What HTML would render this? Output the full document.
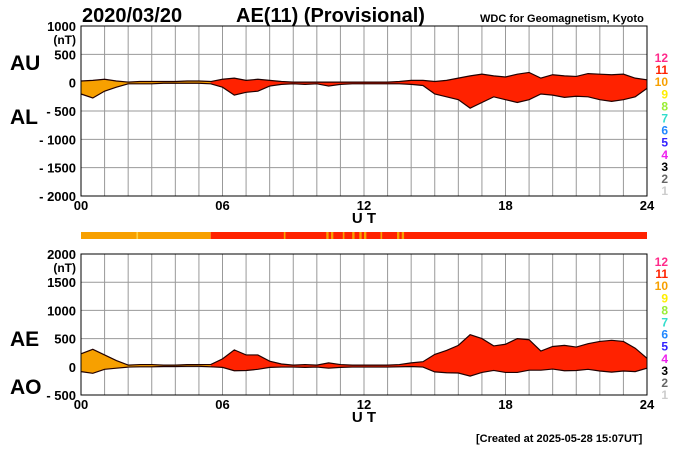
<!DOCTYPE html>
<html><head><meta charset="utf-8"><style>
body{margin:0;background:#fff;width:700px;height:450px;overflow:hidden}
svg{display:block;font-family:"Liberation Sans",sans-serif;font-weight:bold}
</style></head><body>
<svg id="c" width="700" height="450">
<text x="82" y="22" font-size="20">2020/03/20</text>
<text x="236" y="22" font-size="20">AE(11) (Provisional)</text>
<text x="480" y="22" font-size="11">WDC for Geomagnetism, Kyoto</text>
<text x="10" y="70" font-size="21">AU</text>
<text x="10" y="124" font-size="21">AL</text>
<text x="10" y="346" font-size="21">AE</text>
<text x="10" y="394" font-size="21">AO</text>
<text x="476" y="442" font-size="11">[Created at 2025-05-28 15:07UT]</text>
<g id="top"></g><g id="bot"></g><g id="bar"></g><g id="leg"></g>
</svg>
<script>
const hours=[0,0.5,1,1.5,2,2.5,3,3.5,4,4.5,5,5.5,6,6.5,7,7.5,8,8.5,9,9.5,10,10.5,11,11.5,12,12.5,13,13.5,14,14.5,15,15.5,16,16.5,17,17.5,18,18.5,19,19.5,20,20.5,21,21.5,22,22.5,23,23.5,24];
const au=[30,40,60,30,10,20,20,20,20,30,30,20,60,80,40,60,40,20,10,10,10,10,10,10,10,10,10,20,40,40,20,40,80,120,150,120,100,150,180,80,140,120,110,160,150,140,150,80,50];
const al=[-200,-270,-150,-80,-20,-20,-20,-10,-10,-10,-10,-20,-80,-220,-170,-150,-60,-30,-20,-30,-20,-60,-30,-20,-20,-20,-20,-20,-30,-50,-200,-250,-300,-450,-350,-250,-300,-350,-300,-200,-220,-260,-240,-250,-300,-330,-300,-250,-100];
const topTicks=[1000,500,0,-500,-1000,-1500,-2000];
const botTicks=[2000,1500,1000,500,0,-500];
const xTicks=[0,6,12,18,24];
const xLabels=["00","06","12","18","24"];
const barSegs=[[0,5.5,"#f7a000"],[5.5,24,"#ff2200"],[2.35,2.42,"#ffd040"],[8.6,8.67,"#f7a000"],[10.4,10.5,"#f7a000"],[10.6,10.7,"#f7a000"],[11.1,11.17,"#f7a000"],[11.5,11.6,"#f7a000"],[11.8,11.9,"#f7a000"],[12.0,12.1,"#f7a000"],[12.7,12.77,"#f7a000"],[13.4,13.5,"#f7a000"],[13.6,13.7,"#f7a000"]];
const legNums=["12","11","10","9","8","7","6","5","4","3","2","1"];
const legCols=["#ff2a8a","#ff2200","#f7a000","#ffee00","#99ee33","#33ddcc","#2288ff","#3322ff","#ee22ee","#000","#666","#ccc"];
const ns="http://www.w3.org/2000/svg";
const X0=81,X1=647;
const xs=h=>X0+(X1-X0)*h/24;
function mk(p,t,a){const e=document.createElementNS(ns,t);for(const k in a)e.setAttribute(k,a[k]);p.appendChild(e);return e;}
function panel(g,yTop,yBot,vTop,vBot,ticks,up,lo,name){
 const ys=v=>yTop+(vTop-v)*(yBot-yTop)/(vTop-vBot);
 for(let h=0;h<=24;h++){const l=mk(g,"line",{x1:xs(h),x2:xs(h),y1:yTop,y2:yBot,stroke:h%24?"#999":"#000","stroke-width":1});
 
 }
 ticks.forEach((v,i)=>{const l=mk(g,"line",{x1:X0,x2:X1,y1:ys(v),y2:ys(v),stroke:"#999"});
 
 
 const t=mk(g,"text",{x:76,y:ys(v)+5,"font-size":13,"text-anchor":"end"});t.textContent=(v<0?"- "+(-v):v);
 
 });
 const u=mk(g,"text",{x:76,y:ys(ticks[0])+18,"font-size":12,"text-anchor":"end"});u.textContent="(nT)";
 
 
 const split=5.5;
 [[0,split,"#f7a000"],[split,24,"#ff2200"]].forEach(([a,b,c])=>{
  const idx=hours.map((h,i)=>i).filter(i=>hours[i]>=a&&hours[i]<=b);
  let d="M"+idx.map(i=>xs(hours[i])+","+ys(up[i])).join("L")+"L"+idx.slice().reverse().map(i=>xs(hours[i])+","+ys(lo[i])).join("L")+"Z";
  const p=mk(g,"path",{d:d,fill:c,stroke:"none"});
  
  });
 [up,lo].forEach(arr=>{const p=mk(g,"path",{d:"M"+hours.map((h,i)=>xs(h)+","+ys(arr[i])).join("L"),fill:"none",stroke:"#200","stroke-width":1.2});
 
 });
 const r=mk(g,"rect",{x:X0,y:yTop,width:X1-X0,height:yBot-yTop,fill:"none",stroke:"#000"});
 
 
 xTicks.forEach((h,i)=>{const t=mk(g,"text",{x:xs(h),y:yBot+14,"font-size":13,"text-anchor":"middle"});t.textContent=xLabels[i];
 
 });
 const ut=mk(g,"text",{x:xs(12),y:yBot+27,"font-size":15,"text-anchor":"middle"});ut.textContent="U T";
 
 
}
panel(document.getElementById("top"),26,196,1000,-2000,topTicks,au,al,"au-al");
const ae=au.map((v,i)=>v-al[i]),ao=au.map((v,i)=>(v+al[i])/2);
panel(document.getElementById("bot"),254,395,2000,-500,botTicks,ae,ao,"ae-ao");
const bar=document.getElementById("bar");
barSegs.forEach(([a,b,c])=>{const r=mk(bar,"rect",{x:xs(a),y:232,width:xs(b)-xs(a),height:7,fill:c});
 
 });
const lg=document.getElementById("leg");
[62,266].forEach(y0=>legNums.forEach((n,i)=>{const t=mk(lg,"text",{x:668,y:y0+i*12.1,"font-size":12,"text-anchor":"end",fill:legCols[i]});t.textContent=n;
 
 }));
</script>
</body></html>
